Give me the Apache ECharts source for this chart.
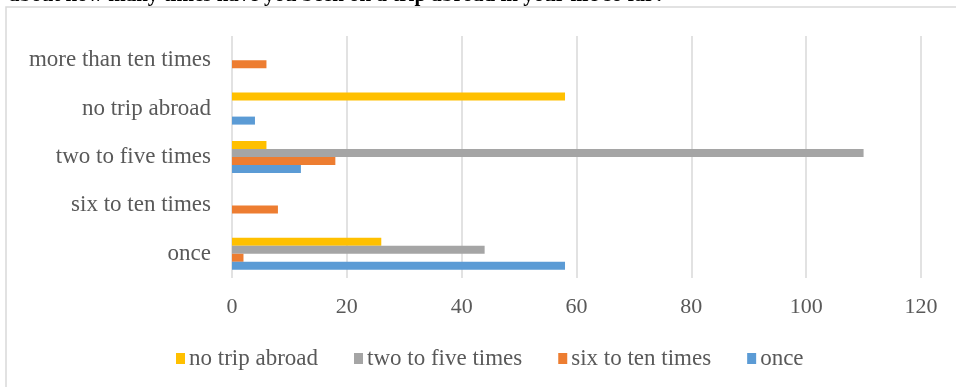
<!DOCTYPE html>
<html>
<head>
<meta charset="utf-8">
<script src="https://cdn.jsdelivr.net/npm/echarts@6/dist/echarts.min.js"></script>
<style>
html, body { margin: 0; padding: 0; background: #fff; }
#chart { width: 956px; height: 387px; }
</style>
</head>
<body>
<div id="chart"></div>
<script>
// categories, bottom to top
var categories = ["once", "six to ten times", "two to five times", "no trip abroad", "more than ten times"];

// one array per series, same order as categories
var once = [58, 0, 12, 4, 0];
var sixToTen = [2, 8, 18, 0, 6];
var twoToFive = [44, 0, 110, 0, 0];
var noTrip = [26, 0, 6, 58, 0];

var xTicks = [0, 20, 40, 60, 80, 100, 120];

var serif = "'Liberation Serif', 'DejaVu Serif', serif";

var myChart = echarts.init(document.getElementById("chart"));

function bar(name, data, color) {
  return {
    name: name,
    type: "bar",
    data: data,
    barWidth: 8,
    barGap: "0%",
    itemStyle: { color: color },
    emphasis: { disabled: true }
  };
}

var option = {
  animation: false,
  title: {
    text: "about how many times have you been on a trip abroad in your life so far?",
    left: 4,
    top: -20,
    textStyle: { fontFamily: serif, fontWeight: "bold", fontSize: 21, color: "#000" }
  },
  graphic: [{
    type: "rect",
    shape: { x: 6, y: 7, width: 1000, height: 500 },
    style: { fill: null, stroke: "#d9d9d9", lineWidth: 1.5 },
    z: -1
  }],
  grid: { left: 232, right: 35, top: 36, bottom: 109, containLabel: false },
  xAxis: {
    type: "value",
    min: xTicks[0],
    max: xTicks[xTicks.length - 1],
    interval: 20,
    axisLine: { show: false },
    axisTick: { show: false },
    splitLine: { lineStyle: { color: "#d9d9d9", width: 1.5 } },
    axisLabel: { margin: 18, fontFamily: serif, fontSize: 22, color: "#595959" }
  },
  yAxis: {
    type: "category",
    data: categories,
    axisLine: { show: false },
    axisTick: { show: false },
    axisLabel: { margin: 21, fontFamily: serif, fontSize: 23, color: "#595959" }
  },
  legend: {
    data: ["no trip abroad", "two to five times", "six to ten times", "once"],
    left: 171,
    top: 342,
    itemWidth: 9,
    itemHeight: 11,
    itemGap: 36,
    icon: "rect",
    textStyle: { fontFamily: serif, fontSize: 23, color: "#595959", padding: [0, 0, 0, -1] }
  },
  // first series is drawn at the top of each category group
  series: [
    bar("no trip abroad", noTrip, "#FFC000"),
    bar("two to five times", twoToFive, "#A5A5A5"),
    bar("six to ten times", sixToTen, "#ED7D31"),
    bar("once", once, "#5B9BD5")
  ]
};

myChart.setOption(option);
window.onresize = myChart.resize;
</script>
</body>
</html>
